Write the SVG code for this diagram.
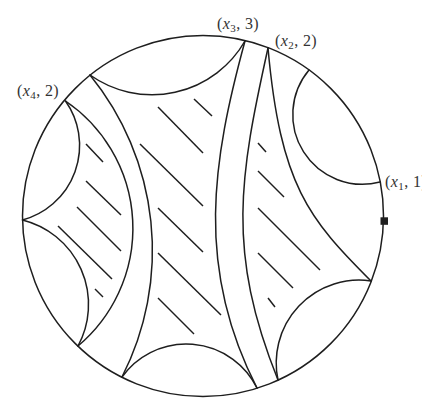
<svg xmlns="http://www.w3.org/2000/svg" width="422" height="398" viewBox="0 0 422 398">
<style>
.c{fill:none;stroke:#1e1e1e;stroke-width:1.5;stroke-linecap:round}
.h{stroke:#1e1e1e;stroke-width:1.5;stroke-linecap:butt}
.lbl{font-family:"Liberation Serif","DejaVu Serif",serif;font-size:16px;fill:#333;letter-spacing:0.4px}
.it{font-style:italic}
.sub{font-size:11px}
</style>
<rect width="422" height="398" fill="#fff"/>
<g id="disk">
<circle class="c" cx="203" cy="216" r="180.5"/>
</g>
<g id="connectors">
<path class="c" d="M90,75 A107.3,107.3 0 0 0 245,41"/>
<path class="c" d="M65.5,101 A77.2,77.2 0 0 1 22.5,220"/>
<path class="c" d="M22.5,220 A87.1,87.1 0 0 1 78,346"/>
<path class="c" d="M65.5,101 A153.8,153.8 0 0 1 78,346"/>
<path class="c" d="M90,75 A278.1,278.1 0 0 1 122,377"/>
<path class="c" d="M122,377 A78.9,78.9 0 0 1 257,388"/>
<path class="c" d="M245,41 C212.5,160.3 194.9,267.4 257,388"/>
<path class="c" d="M268,48 C239.5,176.8 226.2,251.3 278,380"/>
<path class="c" d="M268,48 C280.4,185.7 308.9,218.9 371,281"/>
<path class="c" d="M309,70 A69.6,69.6 0 0 0 380,182"/>
<path class="c" d="M371,281 A82.8,82.8 0 0 0 278,380"/>
</g>
<g id="hatching">
<line class="h" x1="86" y1="144" x2="103" y2="162"/>
<line class="h" x1="86" y1="181" x2="121" y2="215"/>
<line class="h" x1="77" y1="207" x2="121" y2="251"/>
<line class="h" x1="58" y1="226" x2="112" y2="279"/>
<line class="h" x1="95" y1="289" x2="103" y2="297"/>
<line class="h" x1="158" y1="107" x2="203" y2="153"/>
<line class="h" x1="194" y1="99" x2="212" y2="116"/>
<line class="h" x1="140" y1="144" x2="203" y2="206"/>
<line class="h" x1="158" y1="208" x2="203" y2="252"/>
<line class="h" x1="158" y1="253" x2="221" y2="315"/>
<line class="h" x1="158" y1="298" x2="194" y2="334"/>
<line class="h" x1="258" y1="143" x2="266" y2="152"/>
<line class="h" x1="258" y1="171" x2="284" y2="197"/>
<line class="h" x1="258" y1="208" x2="320" y2="270"/>
<line class="h" x1="258" y1="253" x2="293" y2="288"/>
<line class="h" x1="268" y1="298" x2="275" y2="307"/>
</g>
<g id="marker">
<rect x="380.5" y="217.3" width="7.5" height="7.5" fill="#1e1e1e"/>
</g>
<g id="labels">
<text class="lbl" x="17" y="96">(<tspan class="it">x</tspan><tspan class="sub" dy="3">4</tspan><tspan dy="-3">, 2)</tspan></text>
<text class="lbl" x="217" y="28.5">(<tspan class="it">x</tspan><tspan class="sub" dy="3">3</tspan><tspan dy="-3">, 3)</tspan></text>
<text class="lbl" x="275" y="45.5">(<tspan class="it">x</tspan><tspan class="sub" dy="3">2</tspan><tspan dy="-3">, 2)</tspan></text>
<text class="lbl" x="385" y="187">(<tspan class="it">x</tspan><tspan class="sub" dy="3">1</tspan><tspan dy="-3">, 1)</tspan></text>
</g>
</svg>
